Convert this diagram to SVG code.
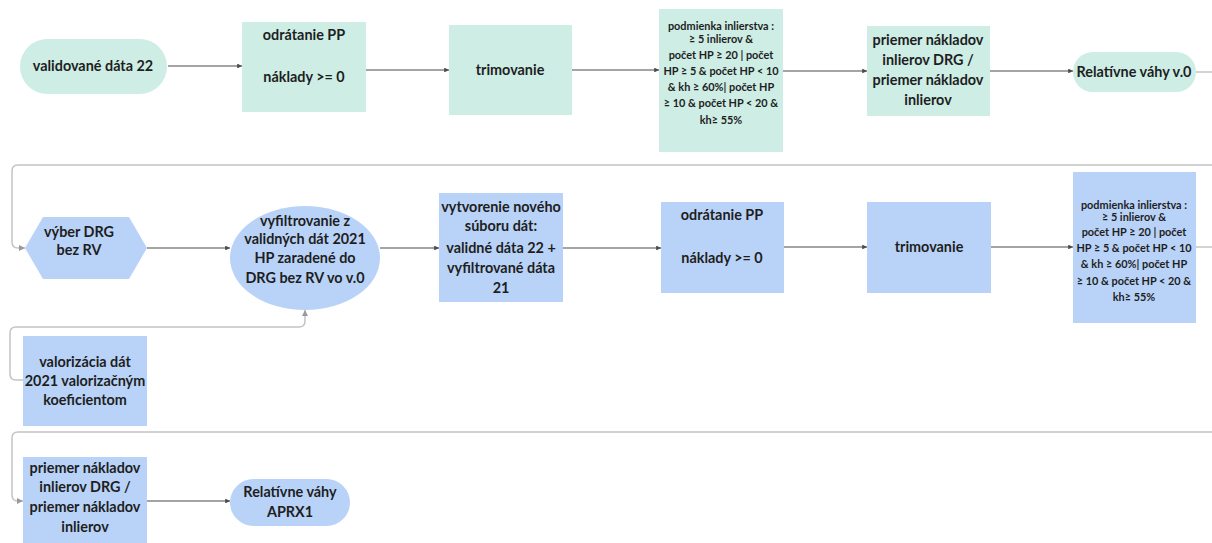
<svg xmlns="http://www.w3.org/2000/svg" width="1212" height="543" viewBox="0 0 1212 543">
<defs>
<style>
.teal{fill:#cdede5}
.blue{fill:#b9d3f8}
.t{font-family:Lato,"Open Sans","Liberation Sans",sans-serif;font-weight:bold;font-size:14.4px;fill:#1e1e1e;text-anchor:middle}
.s{font-size:10.9px}
.c{fill:none;stroke:#4a4a4a;stroke-width:1.2}
.w{fill:none;stroke:#c4c4c4;stroke-width:1.5}
</style>
<marker id="a" viewBox="0 0 6 6" refX="6" refY="3" markerWidth="4" markerHeight="4" orient="auto"><path d="M0,0L6,3L0,6z" fill="#4a4a4a"/></marker>
<marker id="b" viewBox="0 0 6 6" refX="6" refY="3" markerWidth="4" markerHeight="4" orient="auto"><path d="M0,0L6,3L0,6z" fill="#9a9a9a"/></marker>
</defs>
<rect width="1212" height="543" fill="#ffffff"/>
<g id="connectors">
<path class="c" d="M168,66H242" marker-end="url(#a)"/>
<path class="c" d="M366,70H449" marker-end="url(#a)"/>
<path class="c" d="M572,70H659" marker-end="url(#a)"/>
<path class="c" d="M783,71H867" marker-end="url(#a)"/>
<path class="c" d="M990,71H1073" marker-end="url(#a)"/>
<path class="w" d="M1196,72H1212"/>
<path class="w" d="M1212,165H18Q12,165 12,171V242Q12,248 18,248H25" marker-end="url(#b)"/>
<path class="c" d="M147,248H230" marker-end="url(#a)"/>
<path class="c" d="M380,248H439" marker-end="url(#a)"/>
<path class="c" d="M563,248H661" marker-end="url(#a)"/>
<path class="c" d="M784,247H867" marker-end="url(#a)"/>
<path class="c" d="M991,247H1073" marker-end="url(#a)"/>
<path class="w" d="M1196,247H1212"/>
<path class="w" d="M23,380H16Q10,380 10,374V333Q10,327 16,327H299Q305,327 305,321V310" marker-end="url(#b)"/>
<path class="w" d="M1212,432H18Q12,432 12,438V495Q12,501 18,501H23" marker-end="url(#b)"/>
<path class="c" d="M147,501H230" marker-end="url(#a)"/>
</g>
<g id="n1">
<rect class="teal" x="20" y="39" width="147" height="55" rx="27.5"/>
<text class="t" x="93" y="71">validované dáta 22</text>
</g>
<g id="n2">
<rect class="teal" x="242" y="22" width="124" height="90"/>
<text class="t" x="304" y="40">odrátanie PP</text>
<text class="t" x="304" y="82">náklady &gt;= 0</text>
</g>
<g id="n3">
<rect class="teal" x="449" y="25" width="123" height="90"/>
<text class="t" x="510" y="75">trimovanie</text>
</g>
<g id="n4">
<rect class="teal" x="659" y="9" width="124" height="143"/>
<text class="t s" x="721" y="30">podmienka inlierstva :</text>
<text class="t s" x="721" y="43">≥ 5 inlierov &amp;</text>
<text class="t s" x="721" y="59">počet HP ≥ 20 | počet</text>
<text class="t s" x="721" y="75">HP ≥ 5 &amp; počet HP &lt; 10</text>
<text class="t s" x="721" y="91">&amp; kh ≥ 60%| počet HP</text>
<text class="t s" x="721" y="107">≥ 10 &amp; počet HP &lt; 20 &amp;</text>
<text class="t s" x="721" y="124">kh≥ 55%</text>
</g>
<g id="n5">
<rect class="teal" x="867" y="26" width="123" height="90"/>
<text class="t" x="928" y="45">priemer nákladov</text>
<text class="t" x="928" y="65">inlierov DRG /</text>
<text class="t" x="928" y="85">priemer nákladov</text>
<text class="t" x="928" y="105">inlierov</text>
</g>
<g id="n6">
<rect class="teal" x="1073" y="52" width="123" height="40" rx="20"/>
<text class="t" x="1134" y="77">Relatívne váhy v.0</text>
</g>
<g id="n7">
<polygon class="blue" points="25,248 43,217 129,217 147,248 129,279 43,279"/>
<text class="t" x="79" y="237">výber DRG</text>
<text class="t" x="79" y="255">bez RV</text>
</g>
<g id="n8">
<ellipse class="blue" cx="305" cy="258" rx="75" ry="52"/>
<text class="t" x="305" y="226">vyfiltrovanie z</text>
<text class="t" x="305" y="244">validných dát 2021</text>
<text class="t" x="305" y="263">HP zaradené do</text>
<text class="t" x="305" y="283">DRG bez RV vo v.0</text>
</g>
<g id="n9">
<rect class="blue" x="439" y="193" width="124" height="109"/>
<text class="t" x="501" y="212">vytvorenie nového</text>
<text class="t" x="501" y="231">súboru dát:</text>
<text class="t" x="501" y="253">validné dáta 22 +</text>
<text class="t" x="501" y="273">vyfiltrované dáta</text>
<text class="t" x="501" y="293">21</text>
</g>
<g id="n10">
<rect class="blue" x="661" y="202" width="123" height="91"/>
<text class="t" x="722" y="220">odrátanie PP</text>
<text class="t" x="722" y="263">náklady &gt;= 0</text>
</g>
<g id="n11">
<rect class="blue" x="867" y="202" width="124" height="91"/>
<text class="t" x="929" y="252">trimovanie</text>
</g>
<g id="n12">
<rect class="blue" x="1073" y="172" width="123" height="151"/>
<text class="t s" x="1134" y="209">podmienka inlierstva :</text>
<text class="t s" x="1134" y="221">≥ 5 inlierov &amp;</text>
<text class="t s" x="1134" y="236">počet HP ≥ 20 | počet</text>
<text class="t s" x="1134" y="252">HP ≥ 5 &amp; počet HP &lt; 10</text>
<text class="t s" x="1134" y="268">&amp; kh ≥ 60%| počet HP</text>
<text class="t s" x="1134" y="285">≥ 10 &amp; počet HP &lt; 20 &amp;</text>
<text class="t s" x="1134" y="301">kh≥ 55%</text>
</g>
<g id="n13">
<rect class="blue" x="23" y="336" width="124" height="90"/>
<text class="t" x="85" y="367">valorizácia dát</text>
<text class="t" x="85" y="386">2021 valorizačným</text>
<text class="t" x="85" y="405">koeficientom</text>
</g>
<g id="n14">
<rect class="blue" x="23" y="457" width="124" height="90"/>
<text class="t" x="85" y="473">priemer nákladov</text>
<text class="t" x="85" y="492">inlierov DRG /</text>
<text class="t" x="85" y="512">priemer nákladov</text>
<text class="t" x="85" y="532">inlierov</text>
</g>
<g id="n15">
<rect class="blue" x="230" y="479" width="120" height="47" rx="23.5"/>
<text class="t" x="290" y="497">Relatívne váhy</text>
<text class="t" x="290" y="517">APRX1</text>
</g>
</svg>
